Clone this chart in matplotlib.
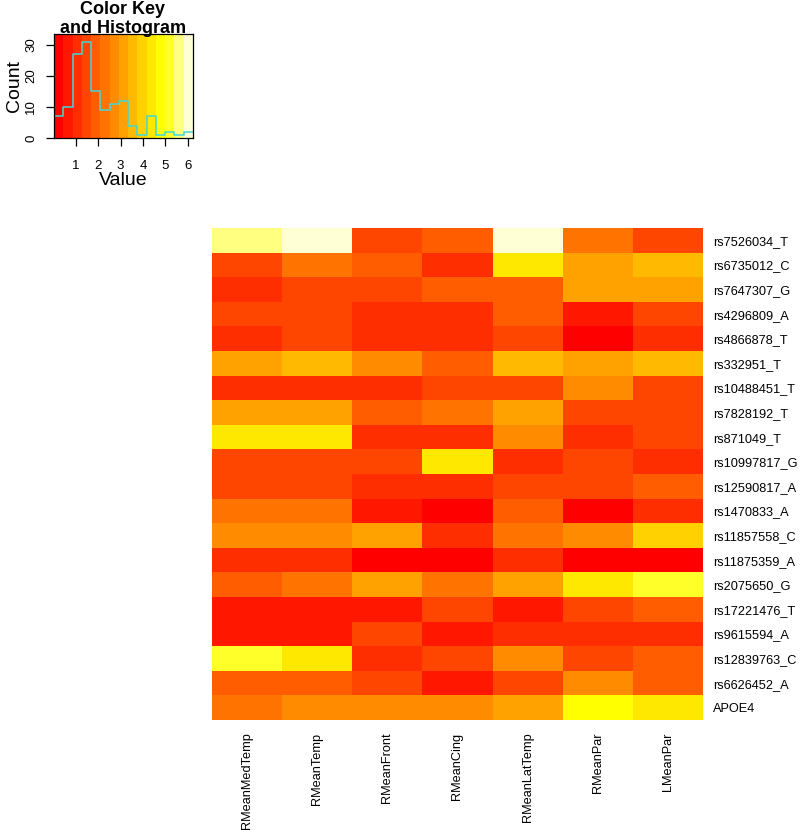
import colorsys
import numpy as np
import matplotlib
matplotlib.use("Agg")
import matplotlib.pyplot as plt
from matplotlib.colors import ListedColormap, BoundaryNorm

plt.rcParams['font.family'] = ['Liberation Sans', 'DejaVu Sans']

# Row and column labels (top to bottom, left to right)
snps = ['rs7526034_T', 'rs6735012_C', 'rs7647307_G', 'rs4296809_A', 'rs4866878_T',
        'rs332951_T', 'rs10488451_T', 'rs7828192_T', 'rs871049_T', 'rs10997817_G',
        'rs12590817_A', 'rs1470833_A', 'rs11857558_C', 'rs11875359_A', 'rs2075650_G',
        'rs17221476_T', 'rs9615594_A', 'rs12839763_C', 'rs6626452_A', 'APOE4']
regions = ['RMeanMedTemp', 'RMeanTemp', 'RMeanFront', 'RMeanCing',
           'RMeanLatTemp', 'RMeanPar', 'LMeanPar']

# Values per column (one per SNP)
RMeanMedTemp = [5.60, 1.45, 1.10, 1.50, 1.02, 3.15, 1.08, 3.10, 4.40, 1.48,
                1.44, 2.28, 2.70, 1.04, 1.90, 0.66, 0.62, 5.25, 1.86, 2.33]
RMeanTemp = [6.24, 2.25, 1.52, 1.46, 1.49, 3.60, 1.05, 3.12, 4.35, 1.47,
             1.45, 2.32, 2.68, 1.07, 2.26, 0.60, 0.64, 4.42, 1.88, 2.74]
RMeanFront = [1.51, 1.92, 1.46, 1.03, 1.06, 2.76, 1.09, 1.85, 1.01, 1.44,
              1.12, 0.70, 3.20, 0.02, 3.17, 0.67, 1.53, 1.07, 1.42, 2.71]
RMeanCing = [1.94, 1.00, 1.84, 1.11, 1.04, 1.91, 1.50, 2.35, 1.08, 4.45,
             1.05, 0.12, 1.02, 0.20, 2.31, 1.43, 0.58, 1.56, 0.71, 2.69]
RMeanLatTemp = [6.10, 4.31, 1.87, 1.93, 1.55, 3.50, 1.41, 3.08, 2.78, 1.13,
                1.58, 1.82, 2.29, 1.00, 3.22, 0.73, 1.09, 2.66, 1.52, 3.14]
RMeanPar = [2.27, 3.11, 3.16, 0.55, 0.18, 3.19, 2.73, 1.49, 1.10, 1.46,
            1.50, 0.25, 2.74, 0.31, 4.39, 1.54, 1.06, 1.45, 2.70, 4.82]
LMeanPar = [1.48, 3.57, 3.05, 1.47, 1.12, 3.52, 1.55, 1.44, 1.52, 0.99,
            1.95, 1.03, 3.93, 0.28, 5.16, 1.90, 1.01, 1.84, 1.89, 4.41]

data = np.column_stack([RMeanMedTemp, RMeanTemp, RMeanFront, RMeanCing,
                        RMeanLatTemp, RMeanPar, LMeanPar])

# R heat.colors(15)
def heat_colors(n):
    j = n // 4
    i = n - j
    cols = [colorsys.hsv_to_rgb(h, 1, 1) for h in np.linspace(0, 1/6, i)]
    cols += [colorsys.hsv_to_rgb(1/6, s, 1) for s in np.linspace(1 - 1/(2*j), 1/(2*j), j)]
    return cols

ncol = 15
cmap = ListedColormap(heat_colors(ncol))
breaks = np.linspace(data.min(), data.max(), ncol + 1)
norm = BoundaryNorm(breaks, ncol)

W, H = 800, 830
fig = plt.figure(figsize=(W/100, H/100), dpi=100)

# heatmap
ax = fig.add_axes([212/W, 1 - 720/H, 491/W, 492/H])
ax.pcolormesh(np.arange(len(regions) + 1), np.arange(len(snps) + 1), data,
              cmap=cmap, norm=norm)
ax.set_xlim(0, len(regions))
ax.set_ylim(len(snps), 0)
for s in ax.spines.values():
    s.set_visible(False)
ax.yaxis.tick_right()
ax.set_yticks(np.arange(len(snps)) + 0.5)
ax.set_yticklabels(snps, fontsize=9.2)
ax.set_xticks(np.arange(len(regions)) + 0.5)
ax.set_xticklabels(regions, rotation=90, fontsize=9.2, va='top')
ax.tick_params(length=0)
ax.tick_params(axis='y', pad=7)
ax.tick_params(axis='x', pad=9)

# color key with histogram
kax = fig.add_axes([54/W, 1 - 138/H, 139/W, 104/H])
counts, _ = np.histogram(data.ravel(), bins=breaks)
ytop = counts.max() * 1.08
centers = (breaks[:-1] + breaks[1:]) / 2
kax.pcolormesh(breaks, [0, ytop], centers[np.newaxis, :], cmap=cmap, norm=norm)
kax.step(breaks, np.append(counts, counts[-1]), where='post', color='#40d8d8', lw=1.1)
kax.set_xlim(breaks[0], breaks[-1])
kax.set_ylim(0, ytop)
kax.set_xticks([1, 2, 3, 4, 5, 6])
kax.set_yticks([0, 10, 20, 30])
kax.set_yticklabels(['0', '10', '20', '30'], rotation=90, va='center')
kax.tick_params(labelsize=9.5, length=6, width=0.9)
kax.tick_params(axis='x', pad=10)
kax.tick_params(axis='y', pad=6)
for s in kax.spines.values():
    s.set_linewidth(0.9)
kax.set_xlabel('Value', fontsize=14, labelpad=0)
kax.set_ylabel('Count', fontsize=14, labelpad=2)

fig.text(123/W, 1 - 14/H, 'Color Key', ha='center', va='baseline',
         fontsize=13, fontweight='bold')
fig.text(123/W, 1 - 33/H, 'and Histogram', ha='center', va='baseline',
         fontsize=13, fontweight='bold')

fig.savefig('out.png', dpi=100)
